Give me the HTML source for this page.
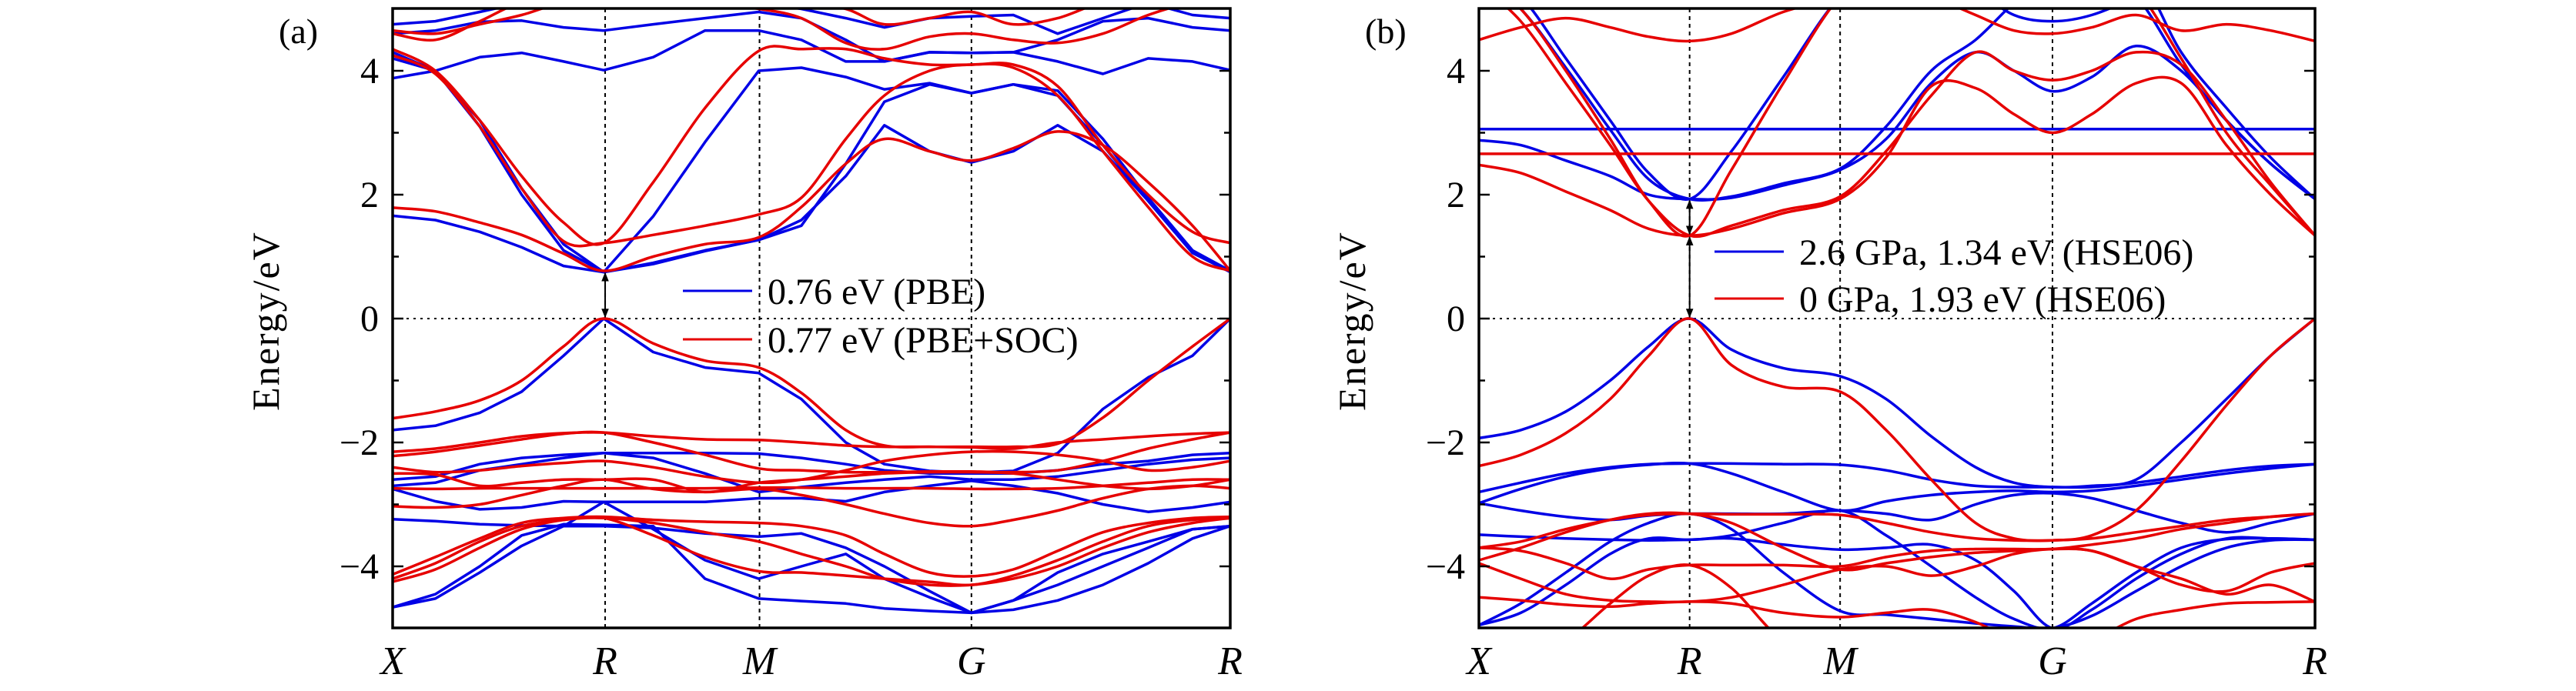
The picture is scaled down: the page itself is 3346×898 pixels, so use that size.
<!DOCTYPE html>
<html><head><meta charset="utf-8"><style>
html,body{margin:0;padding:0;background:#fff;}
svg{display:block;}
text{font-family:"Liberation Serif",serif;fill:#000;}
</style></head><body>
<svg id="fig" width="3346" height="898" viewBox="0 0 3346 898" xmlns="http://www.w3.org/2000/svg">
<defs>
<clipPath id="clipA"><rect x="510" y="11" width="1088" height="805"/></clipPath>
<clipPath id="clipB"><rect x="1921" y="11" width="1086" height="805"/></clipPath>
<marker id="ah" viewBox="0 0 10 10" refX="9" refY="5" markerWidth="6" markerHeight="8" orient="auto-start-reverse"><path d="M0,1 L10,5 L0,9 Z" fill="#000"/></marker>
</defs>
<g id="root"></g>
</svg>
<script>
// ---- data: k grid (fraction of path) ----
const kA = [0,0.051,0.104,0.154,0.204,0.252,0.311,0.373,0.437,0.488,0.541,0.587,0.641,0.691,0.741,0.794,0.848,0.902,0.955,1];
const kB = [0,0.050,0.104,0.157,0.203,0.252,0.302,0.364,0.432,0.487,0.541,0.594,0.640,0.686,0.733,0.786,0.840,0.894,0.947,1];
const kTickLabels = ["X","R","M","G","R"];
const kTicksA = [0,0.2537,0.438,0.691,1];
const kTicksB = [0,0.252,0.432,0.686,1];
const yTickValues = [-4,-2,0,2,4];
const yTickLabels = ["\u22124","\u22122","0","2","4"];
const yMinorValues = [-3,-1,1,3];
const gapsA = [0.76,0.77];
const gapsB = [1.34,1.93];
const legendA = ["0.76 eV (PBE)","0.77 eV (PBE+SOC)"];
const legendB = ["2.6 GPa, 1.34 eV (HSE06)","0 GPa, 1.93 eV (HSE06)"];

const blueA = [
[1.66,1.59,1.40,1.15,0.85,0.75,0.88,1.09,1.27,1.59,2.30,3.12,2.70,2.52,2.70,3.12,2.70,1.90,1.06,0.75],
[4.3,4.0,3.2,2.1,1.2,0.75,1.65,2.85,4.0,4.05,3.9,3.7,3.8,3.64,3.78,3.68,2.9,1.95,1.1,0.77],
[4.2,4.0,3.1,2.0,1.1,0.75,0.9,1.1,1.27,1.5,2.5,3.5,3.78,3.64,3.78,3.6,2.8,1.9,1.06,0.77],
[3.88,4.0,4.22,4.29,4.15,4.01,4.22,4.65,4.65,4.5,4.15,4.15,4.3,4.29,4.3,4.15,3.95,4.2,4.15,4.01],
[4.6,4.65,4.79,4.81,4.7,4.65,4.75,4.85,4.95,4.85,4.5,4.15,4.3,4.29,4.3,4.5,4.8,4.85,4.7,4.65],
[4.75,4.8,4.95,5.1,5.1,5.1,5.1,5.1,5.1,5.0,4.85,4.7,4.85,4.88,4.9,4.6,4.85,5.1,4.9,4.85],
[-1.80,-1.73,-1.52,-1.18,-0.60,0,-0.54,-0.79,-0.88,-1.30,-2.0,-2.35,-2.46,-2.49,-2.46,-2.17,-1.46,-0.95,-0.6,0],
[-2.6,-2.55,-2.35,-2.25,-2.2,-2.17,-2.17,-2.17,-2.18,-2.25,-2.35,-2.45,-2.5,-2.5,-2.5,-2.45,-2.35,-2.3,-2.2,-2.17],
[-2.7,-2.65,-2.45,-2.35,-2.25,-2.17,-2.25,-2.5,-2.8,-2.72,-2.65,-2.6,-2.55,-2.6,-2.6,-2.55,-2.45,-2.35,-2.28,-2.25],
[-2.75,-2.95,-3.08,-3.05,-2.95,-2.96,-2.96,-2.96,-2.9,-2.9,-2.95,-2.8,-2.7,-2.62,-2.7,-2.82,-3.0,-3.12,-3.05,-2.96],
[-3.24,-3.27,-3.32,-3.34,-3.35,-3.35,-3.38,-3.47,-3.52,-3.47,-3.7,-4.0,-4.4,-4.75,-4.55,-4.3,-4.0,-3.7,-3.4,-3.35],
[-4.66,-4.52,-4.1,-3.67,-3.35,-2.96,-3.4,-3.9,-4.2,-4.0,-3.8,-4.2,-4.5,-4.75,-4.55,-4.1,-3.8,-3.6,-3.4,-3.35],
[-4.66,-4.45,-4.0,-3.5,-3.32,-3.33,-3.35,-4.2,-4.52,-4.56,-4.6,-4.68,-4.72,-4.75,-4.7,-4.55,-4.3,-3.95,-3.55,-3.35]
];
const redA = [
[1.79,1.73,1.55,1.35,1.05,0.77,1.0,1.2,1.31,1.8,2.5,2.9,2.7,2.55,2.75,3.02,2.8,2.2,1.5,0.77],
[4.35,4.0,3.2,2.3,1.55,1.22,2.2,3.4,4.32,4.35,4.35,4.2,4.1,4.1,4.1,3.75,2.8,2.0,1.4,1.22],
[4.25,3.95,3.1,2.1,1.25,1.22,1.35,1.5,1.68,1.95,2.9,3.6,4.0,4.1,4.05,3.6,2.7,1.8,1.0,0.77],
[4.6,4.5,4.8,5.1,5.1,5.1,5.1,5.1,5.0,4.85,4.45,4.35,4.55,4.6,4.5,4.45,4.6,4.9,5.1,5.1],
[4.65,4.6,4.75,4.9,5.1,5.1,5.1,5.1,5.1,5.1,5.0,4.75,4.85,4.95,4.75,4.85,5.1,5.1,5.1,5.1],
[-1.61,-1.5,-1.32,-1.0,-0.45,0,-0.4,-0.68,-0.79,-1.2,-1.8,-2.05,-2.07,-2.07,-2.07,-2.02,-1.6,-1.0,-0.45,0],
[-2.15,-2.1,-2.0,-1.9,-1.85,-1.84,-1.9,-1.95,-1.96,-2.0,-2.05,-2.07,-2.07,-2.08,-2.1,-2.0,-1.95,-1.9,-1.86,-1.84],
[-2.22,-2.15,-2.05,-1.95,-1.86,-1.84,-2.0,-2.2,-2.42,-2.45,-2.48,-2.48,-2.47,-2.47,-2.48,-2.45,-2.3,-2.1,-1.95,-1.84],
[-2.4,-2.48,-2.45,-2.38,-2.33,-2.3,-2.4,-2.55,-2.65,-2.6,-2.45,-2.3,-2.2,-2.15,-2.15,-2.2,-2.3,-2.45,-2.4,-2.3],
[-2.5,-2.52,-2.7,-2.65,-2.6,-2.6,-2.6,-2.8,-2.65,-2.6,-2.55,-2.5,-2.48,-2.48,-2.5,-2.6,-2.7,-2.75,-2.7,-2.6],
[-2.74,-2.75,-2.74,-2.74,-2.74,-2.74,-2.74,-2.74,-2.73,-2.73,-2.74,-2.74,-2.74,-2.75,-2.75,-2.74,-2.7,-2.65,-2.6,-2.6],
[-3.03,-3.05,-3.0,-2.85,-2.7,-2.6,-2.75,-2.8,-2.75,-2.85,-3.0,-3.15,-3.3,-3.35,-3.25,-3.1,-2.9,-2.75,-2.7,-2.74],
[-4.13,-3.85,-3.55,-3.3,-3.22,-3.2,-3.25,-3.28,-3.3,-3.35,-3.5,-3.8,-4.1,-4.16,-4.05,-3.75,-3.45,-3.3,-3.22,-3.2],
[-4.2,-3.95,-3.6,-3.35,-3.25,-3.22,-3.5,-3.85,-4.08,-4.1,-4.15,-4.2,-4.25,-4.3,-4.15,-3.9,-3.6,-3.35,-3.25,-3.22],
[-4.25,-4.05,-3.7,-3.4,-3.25,-3.22,-3.3,-3.45,-3.6,-3.8,-4.0,-4.2,-4.3,-4.3,-4.2,-4.0,-3.7,-3.45,-3.3,-3.22]
];
const blueB = [
[3.06,3.06,3.06,3.06,3.06,3.06,3.06,3.06,3.06,3.06,3.06,3.06,3.06,3.06,3.06,3.06,3.06,3.06,3.06,3.06],
[2.88,2.8,2.55,2.3,2.0,1.93,1.95,2.15,2.4,2.9,3.8,4.3,4.0,3.67,3.9,4.4,4.0,3.2,2.5,1.93],
[5.6,5.2,4.2,3.2,2.35,1.93,2.7,3.9,5.2,5.6,5.6,5.6,5.6,5.6,5.6,5.2,4.1,3.2,2.5,1.93],
[5.5,5.0,4.05,3.05,2.25,1.93,1.97,2.18,2.42,3.1,4.0,4.5,5.1,5.6,5.6,5.6,4.3,3.4,2.6,1.93],
[5.6,5.6,5.6,5.6,5.6,5.6,5.6,5.6,5.6,5.6,5.6,5.3,4.9,4.8,4.9,5.2,5.6,5.6,5.6,5.6],
[-1.93,-1.8,-1.5,-1.0,-0.45,0,-0.5,-0.8,-0.93,-1.3,-1.9,-2.4,-2.65,-2.72,-2.7,-2.6,-2.0,-1.3,-0.6,0],
[-2.8,-2.65,-2.5,-2.4,-2.35,-2.34,-2.34,-2.35,-2.36,-2.45,-2.6,-2.7,-2.72,-2.72,-2.72,-2.65,-2.55,-2.45,-2.38,-2.35],
[-2.98,-2.75,-2.55,-2.42,-2.36,-2.34,-2.5,-2.8,-3.1,-2.95,-2.85,-2.8,-2.78,-2.8,-2.78,-2.7,-2.6,-2.5,-2.42,-2.35],
[-2.98,-3.1,-3.2,-3.25,-3.18,-3.15,-3.15,-3.15,-3.1,-3.15,-3.25,-3.0,-2.85,-2.82,-2.9,-3.1,-3.3,-3.45,-3.3,-3.15],
[-3.49,-3.52,-3.55,-3.57,-3.58,-3.57,-3.55,-3.65,-3.73,-3.7,-3.65,-3.9,-4.4,-5.0,-4.7,-4.2,-3.8,-3.55,-3.55,-3.57],
[-4.95,-4.6,-4.1,-3.6,-3.3,-3.15,-3.4,-4.1,-4.72,-4.78,-4.85,-4.92,-4.97,-5.0,-4.8,-4.4,-4.0,-3.7,-3.58,-3.57],
[-4.95,-4.75,-4.3,-3.8,-3.55,-3.57,-3.5,-3.3,-3.1,-3.5,-4.0,-4.5,-4.85,-5.0,-4.6,-4.1,-3.7,-3.56,-3.55,-3.57]
];
const redB = [
[2.66,2.66,2.66,2.66,2.66,2.66,2.66,2.66,2.66,2.66,2.66,2.66,2.66,2.66,2.66,2.66,2.66,2.66,2.66,2.66],
[2.48,2.35,2.05,1.75,1.45,1.34,1.45,1.7,1.93,2.6,3.75,3.72,3.3,3.0,3.3,3.8,3.8,2.8,2.0,1.34],
[5.5,5.0,4.0,2.9,1.9,1.34,2.4,3.8,5.2,5.6,5.6,5.6,5.6,5.6,5.6,5.3,4.2,3.0,2.15,1.34],
[5.4,4.8,3.8,2.8,1.9,1.34,1.5,1.75,1.97,2.7,3.6,4.3,4.0,3.85,4.0,4.3,4.1,3.2,2.2,1.34],
[4.5,4.7,4.85,4.7,4.55,4.48,4.6,4.95,5.2,5.4,5.2,4.9,4.65,4.6,4.7,4.9,4.65,4.75,4.65,4.48],
[-2.38,-2.2,-1.85,-1.3,-0.6,0,-0.75,-1.1,-1.18,-1.8,-2.6,-3.3,-3.55,-3.58,-3.5,-3.1,-2.3,-1.4,-0.6,0],
[-3.7,-3.6,-3.4,-3.25,-3.17,-3.15,-3.16,-3.16,-3.17,-3.3,-3.45,-3.55,-3.58,-3.58,-3.55,-3.45,-3.35,-3.25,-3.2,-3.15],
[-3.9,-3.7,-3.45,-3.25,-3.15,-3.15,-3.3,-3.7,-4.05,-3.95,-3.85,-3.78,-3.75,-3.72,-3.75,-4.0,-4.3,-4.4,-4.1,-3.95],
[-3.7,-3.75,-3.95,-4.2,-4.05,-3.98,-3.98,-3.98,-4.0,-3.85,-3.75,-3.72,-3.72,-3.72,-3.65,-3.55,-3.4,-3.3,-3.2,-3.15],
[-3.95,-4.2,-4.45,-4.55,-4.57,-4.57,-4.5,-4.3,-4.05,-4.0,-4.15,-4.0,-3.8,-3.72,-3.75,-4.0,-4.2,-4.45,-4.3,-4.57],
[-4.5,-4.55,-4.62,-4.65,-4.6,-4.57,-4.6,-4.75,-4.82,-4.75,-4.7,-4.9,-5.2,-5.4,-5.2,-4.85,-4.7,-4.6,-4.58,-4.57],
[-5.5,-5.5,-5.2,-4.6,-4.15,-3.98,-4.35,-5.2,-5.5,-5.5,-5.5,-5.5,-5.5,-5.5,-5.5,-5.5,-5.5,-5.5,-5.5,-5.5]
];

// ---- rendering ----
const NS = "http://www.w3.org/2000/svg";
const root = document.getElementById("root");
const Y0 = 414, PU = 80.5;
function yScale(e){ return Y0 - e*PU; }
function mk(tag, attrs, parent){
  const el = document.createElementNS(NS, tag);
  for (const k in attrs) el.setAttribute(k, attrs[k]);
  (parent||root).appendChild(el);
  return el;
}
function smoothPath(pts){
  let d = "M"+pts[0][0].toFixed(1)+","+pts[0][1].toFixed(1);
  for (let i=0;i<pts.length-1;i++){
    const p0=pts[Math.max(i-1,0)], p1=pts[i], p2=pts[i+1], p3=pts[Math.min(i+2,pts.length-1)];
    const c1=[p1[0]+(p2[0]-p0[0])/6, p1[1]+(p2[1]-p0[1])/6];
    const c2=[p2[0]-(p3[0]-p1[0])/6, p2[1]-(p3[1]-p1[1])/6];
    d += " C"+c1[0].toFixed(1)+","+c1[1].toFixed(1)+" "+c2[0].toFixed(1)+","+c2[1].toFixed(1)+" "+p2[0].toFixed(1)+","+p2[1].toFixed(1);
  }
  return d;
}
function linePath(pts){ return "M"+pts.map(p=>p[0].toFixed(1)+","+p[1].toFixed(1)).join(" L"); }

function panel(cfg){
  const g = mk("g", {});
  
  
  const xS = k => cfg.x0 + k*(cfg.x1-cfg.x0);
  cfg.ticks.slice(1,4).forEach((k,i)=>{
    const l = mk("line",{x1:xS(k),x2:xS(k),y1:11,y2:816,stroke:"#000","stroke-width":2,"stroke-dasharray":"5,5"},g);
    
    
  });
  const zl = mk("line",{x1:cfg.x0,x2:cfg.x1,y1:yScale(0),y2:yScale(0),stroke:"#000","stroke-width":2,"stroke-dasharray":"3,6"},g);
  
  
  const bg = mk("g",{"clip-path":"url(#"+cfg.clip+")"},g);
  const series = [[cfg.blue,"#0000e6",cfg.smoothBlue,"blue-band"],[cfg.red,"#e60000",true,"red-band"]];
  series.forEach(([bands,col,smooth,nm])=>{
    bands.forEach((b,bi)=>{
      const pts = b.map((e,i)=>[xS(cfg.k[i]), yScale(e)]);
      const p = mk("path",{d: smooth?smoothPath(pts):linePath(pts),fill:"none",stroke:col,"stroke-width":3.5,"stroke-linejoin":"round"},bg);
      
      
    });
  });
  const fr = mk("rect",{x:cfg.x0,y:11,width:cfg.x1-cfg.x0,height:805,fill:"none",stroke:"#000","stroke-width":3.5},g);
  
  
  yTickValues.forEach((v,i)=>{
    const y=yScale(v);
    mk("line",{x1:cfg.x0,x2:cfg.x0+14,y1:y,y2:y,stroke:"#000","stroke-width":2.5},g);
    mk("line",{x1:cfg.x1,x2:cfg.x1-14,y1:y,y2:y,stroke:"#000","stroke-width":2.5},g);
    const t = mk("text",{x:cfg.x0-18,y:y+16,"text-anchor":"end","font-size":48},g);
    t.textContent = yTickLabels[i];
    
    
  });
  yMinorValues.forEach(v=>{
    const y=yScale(v);
    mk("line",{x1:cfg.x0,x2:cfg.x0+8,y1:y,y2:y,stroke:"#000","stroke-width":2.5},g);
    mk("line",{x1:cfg.x1,x2:cfg.x1-8,y1:y,y2:y,stroke:"#000","stroke-width":2.5},g);
  });
  cfg.ticks.forEach((k,i)=>{
    const t = mk("text",{x:xS(k),y:876,"text-anchor":"middle","font-size":52,"font-style":"italic"},g);
    t.textContent = cfg.labels[i];
    
    
  });
  const yl = mk("text",{x:0,y:0,"text-anchor":"middle","font-size":50,"letter-spacing":"2",transform:"translate("+(cfg.x0-148)+",417) rotate(-90)"},g);
  yl.textContent = "Energy/eV";
  
  
  const pl = mk("text",{x:cfg.x0-148,y:56,"font-size":46},g);
  pl.textContent = cfg.tag;
  
  
  const xr = xS(cfg.ticks[1]);
  if (cfg.split){
    const a1 = mk("line",{x1:xr,x2:xr,y1:yScale(0)-2,y2:yScale(cfg.gaps[0])+2,stroke:"#000","stroke-width":2,"marker-start":"url(#ah)","marker-end":"url(#ah)"},g);
    
    
    const a2 = mk("line",{x1:xr,x2:xr,y1:yScale(cfg.gaps[0])-2,y2:yScale(cfg.gaps[1])+2,stroke:"#000","stroke-width":2,"marker-start":"url(#ah)","marker-end":"url(#ah)"},g);
    
    
  } else {
    const a = mk("line",{x1:xr,x2:xr,y1:yScale(0)-2,y2:yScale(cfg.gaps[0])+2,stroke:"#000","stroke-width":2,"marker-start":"url(#ah)","marker-end":"url(#ah)"},g);
    
    
  }
  const cols = ["#0000e6","#e60000"];
  cfg.legend.forEach((txt,i)=>{
    const y = cfg.legY[i];
    const lg = mk("g",{},g);
    
    
    mk("line",{x1:cfg.legX,x2:cfg.legX+90,y1:y,y2:y,stroke:cols[i],"stroke-width":3},lg);
    const t = mk("text",{x:cfg.legX+110,y:y+17,"font-size":48},lg);
    t.textContent = txt;
  });
}

panel({name:"panel-a",tag:"(a)",x0:510,x1:1598,k:kA,ticks:kTicksA,labels:kTickLabels,blue:blueA,red:redA,smoothBlue:false,clip:"clipA",gaps:gapsA,split:false,legend:legendA,legX:887,legY:[378,441]});
panel({name:"panel-b",tag:"(b)",x0:1921,x1:3007,k:kB,ticks:kTicksB,labels:kTickLabels,blue:blueB,red:redB,smoothBlue:true,clip:"clipB",gaps:gapsB,split:true,legend:legendB,legX:2227,legY:[327,388]});
</script>
</body></html>
